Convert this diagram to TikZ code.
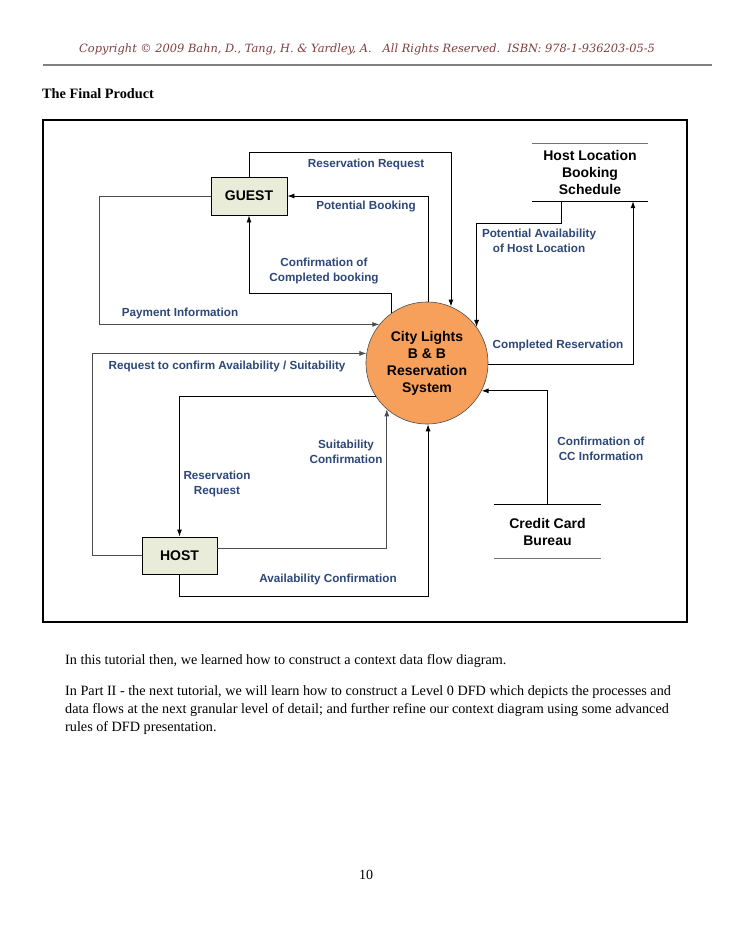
\documentclass[tikz,border=0pt]{standalone}
\usepackage{fontspec}
\setmainfont{Liberation Serif}
\newfontfamily\arialf{Liberation Sans}
\newfontfamily\slabf{DejaVu Serif}
\usetikzlibrary{arrows.meta,calc}
\definecolor{lblblue}{RGB}{45,72,120}
\definecolor{boxfill}{RGB}{233,236,217}
\definecolor{orangefill}{RGB}{246,160,92}
\definecolor{maroon}{RGB}{128,62,62}
\begin{document}
\begin{tikzpicture}[x=1pt,y=-1pt,
  flow/.style={line width=0.9pt,black},
  flowg/.style={line width=0.9pt,black!70},
  arr/.style={-{Latex[length=7pt,width=5pt]}},
  lbl/.style={font=\arialf\bfseries\fontsize{11.7}{15}\selectfont,text=lblblue,align=center,inner sep=0pt},
  entity/.style={draw=black,line width=0.9pt,fill=boxfill,font=\arialf\bfseries\fontsize{14}{17}\selectfont,inner sep=0pt},
  store/.style={font=\arialf\bfseries\fontsize{14}{17}\selectfont,align=center,inner sep=0pt},
  body/.style={font=\fontsize{14.2}{16}\selectfont,anchor=west,inner sep=0pt}]
\useasboundingbox (0,0) rectangle (728,942);
\fill[white] (0,0) rectangle (728,942);

% header
\node[font=\slabf\itshape\fontsize{11.4}{13}\selectfont,text=maroon,anchor=west,inner sep=0pt] (copy) at (79,49)
  {Copyright \textcopyright\ 2009 Bahn, D., Tang, H. \& Yardley, A.\ \ \ All Rights Reserved.\ \ ISBN: 978-1-936203-05-5};
\coordinate (hl) at (43,65);
\coordinate (hr) at (712,65);
\draw[line width=2pt,black!50] (hl) -- (hr);
\node[font=\bfseries\fontsize{14.3}{16}\selectfont,anchor=west,inner sep=0pt] (title) at (42,94) {The Final Product};

% frame
\coordinate (f1) at (43,120);
\coordinate (f2) at (687,622);
\draw[line width=1.1pt] (f1) rectangle (f2);

% nodes
\node[entity,minimum width=76pt,minimum height=38pt] (guest) at (249,196) {GUEST};
\node[entity,minimum width=75pt,minimum height=37pt] (host) at (179.5,555.5) {HOST};
\node[circle,draw=black!70,line width=0.6pt,fill=orangefill,minimum size=122pt,inner sep=0pt,
      font=\arialf\bfseries\fontsize{14}{17}\selectfont,align=center] (sys) at (427,363)
      {City Lights\\B \& B\\Reservation\\System};
\node[store,minimum width=116pt,minimum height=58pt] (hls) at (590,172) {Host Location\\Booking\\Schedule};
\node[store,minimum width=107pt,minimum height=53pt] (ccb) at (547.5,531.5) {Credit Card\\Bureau};
\draw[line width=0.6pt,black!55] (hls.north west) -- (hls.north east);
\draw[line width=0.9pt] (hls.south west) -- (hls.south east);
\draw[line width=0.9pt] (ccb.north west) -- (ccb.north east);
\draw[line width=0.6pt,black!55] (ccb.south west) -- (ccb.south east);

% connectors
\draw[flow,arr] (guest.north) -- ++(0,-24) -| (sys.67.85);
\draw[flow,arr] (sys.89) |- (guest.east);
\coordinate (cb) at (249,293);
\draw[flow,arr] (sys.125) |- (cb) -- (guest.south);
\coordinate (p1) at (99,196);
\draw[flowg,arr] (guest.west) -- (p1) |- (sys.141.5);
\coordinate (r1) at (92,555.5);
\draw[flowg,arr] (host.west) -- (r1) |- (sys.171.5);
\draw[flow,arr] (sys.213.9) -| (host.north);
\draw[flowg,arr] ([yshift=7.5pt]host.east) -| (sys.229);
\draw[flow,arr] (host.south) -- ++(0,22) -| (sys.271);
\draw[flow,arr] ([xshift=-29pt]hls.south) -- ++(0,22) -| (sys.36.6);
\draw[flow,arr] (sys.-1) -| ([xshift=43pt]hls.south);
\draw[flow,arr] (ccb.north) |- (sys.-27.3);

% labels
\node[lbl] (l1) at (366,164) {Reservation Request};
\node[lbl] (l2) at (366,206) {Potential Booking};
\node[lbl] (l3) at (324,270.5) {Confirmation of\\Completed booking};
\node[lbl] (l4) at (180,313) {Payment Information};
\node[lbl] (l5) at (539,241) {Potential Availability\\of Host Location};
\node[lbl] (l6) at (558,345) {Completed Reservation};
\node[lbl] (l7) at (227,366) {Request to confirm Availability / Suitability};
\node[lbl] (l8) at (346,451.5) {Suitability\\Confirmation};
\node[lbl] (l9) at (217,483.5) {Reservation\\Request};
\node[lbl] (l10) at (328,579) {Availability Confirmation};
\node[lbl] (l11) at (601,448.5) {Confirmation of\\CC Information};

% body text
\node[body] (t1) at (65,661) {In this tutorial then, we learned how to construct a context data flow diagram.};
\node[body] (t2) at (65,692) {In Part II - the next tutorial, we will learn how to construct a Level 0 DFD which depicts the processes and};
\node[body] (t3) at (65,710) {data flows at the next granular level of detail; and further refine our context diagram using some advanced};
\node[body] (t4) at (65,728) {rules of DFD presentation.};
\node[font=\fontsize{14}{16}\selectfont,inner sep=0pt] (pg) at (366,875) {10};
\end{tikzpicture}
\end{document}
